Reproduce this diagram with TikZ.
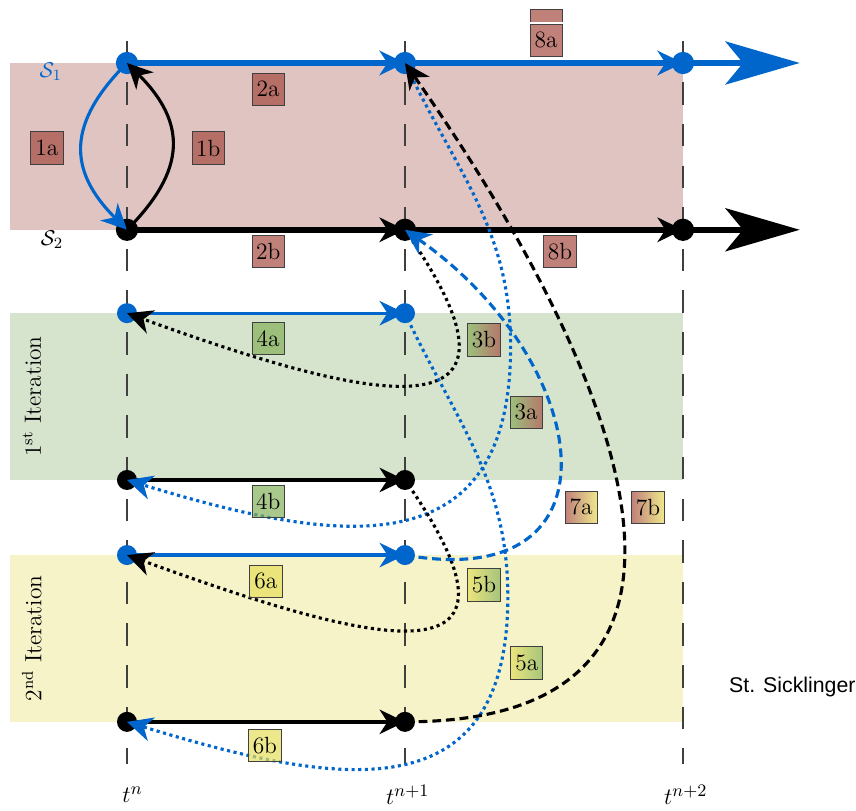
\documentclass[tikz,border=0pt]{standalone}
\usepackage{fontspec}
\usepackage{amsmath,amssymb}
\usepackage{xcolor}
\usepackage{tikz}
\usetikzlibrary{arrows.meta}
\newfontfamily\creditfont{Liberation Sans}

\definecolor{simblue}{RGB}{0,102,204}
\definecolor{bandred}{RGB}{224,196,193}
\definecolor{bandgreen}{RGB}{215,228,205}
\definecolor{bandyellow}{RGB}{246,243,200}
\definecolor{labred}{RGB}{165,75,65}
\definecolor{labgreen}{RGB}{131,176,91}
\definecolor{labyellow}{RGB}{231,222,91}

\tikzset{mainline/.style={line width=3pt},
iterline/.style={line width=1.7pt},
flow/.style={line width=1.6pt},
flowdot/.style={flow,dash pattern=on 1.6pt off 1.8pt},
flowdash/.style={flow,dash pattern=on 4.5pt off 2.5pt},
timeline/.style={black!75,line width=0.8pt,dash pattern=on 11.5pt off 9.8pt},
box/.style={draw=black!75,line width=0.5pt,minimum size=0.58cm,inner sep=0pt,
font=\fontsize{12}{14}\selectfont},
tintbox/.style={box,fill=#1,fill opacity=0.7,text opacity=1},
shadebox/.style 2 args={box,left color=#1,right color=#2}}

\begin{document}
\begin{tikzpicture}[>={Stealth[length=13pt,width=12.5pt,inset=4pt]}]
    \useasboundingbox (-2.284,-13.453) rectangle (13.112,1.133);

    % Bands
    \fill[bandred] (-2.1,0) rectangle (10,-3);
    \fill[bandgreen] (-2.1,-4.5) rectangle (10,-7.5);
    \fill[bandyellow] (-2.1,-8.85) rectangle (10,-11.85);

    % Time levels
    \draw[timeline] (0,0.4) -- (0,-12.6);
    \draw[timeline] (5,0.4) -- (5,-12.6);
    \draw[timeline] (10,0.4) -- (10,-12.6);
    \node[font=\fontsize{13}{15}\selectfont,inner sep=1pt] (tn) at (0.1,-13.16) {$t^{n}$};
    \node[font=\fontsize{13}{15}\selectfont,inner sep=1pt] (tn1) at (5.05,-13.16) {$t^{n+1}$};
    \node[font=\fontsize{13}{15}\selectfont,inner sep=1pt] (tn2) at (10.05,-13.16) {$t^{n+2}$};

    % Points
    \coordinate (s1-0) at (0,0);
    \coordinate (s1-1) at (5,0);
    \coordinate (s1-2) at (10,0);
    \coordinate (s1-end) at (12.1,0);
    \coordinate (s2-0) at (0,-3);
    \coordinate (s2-1) at (5,-3);
    \coordinate (s2-2) at (10,-3);
    \coordinate (s2-end) at (12.1,-3);
    \coordinate (k1s1-0) at (0,-4.5);
    \coordinate (k1s1-1) at (5,-4.5);
    \coordinate (k1s2-0) at (0,-7.5);
    \coordinate (k1s2-1) at (5,-7.5);
    \coordinate (k2s1-0) at (0,-8.85);
    \coordinate (k2s1-1) at (5,-8.85);
    \coordinate (k2s2-0) at (0,-11.85);
    \coordinate (k2s2-1) at (5,-11.85);

    % Time lines of S1 and S2
    \begin{scope}[simblue]
    \draw[mainline,->] (s1-0) -- (s1-1);
    \draw[mainline,->] (s1-1) -- (s1-2);
    \draw[mainline,-{Stealth[length=38pt,width=22pt,inset=9pt]}] (s1-2) -- (s1-end);
    \draw[iterline,->] (k1s1-0) -- (k1s1-1);
    \draw[iterline,->] (k2s1-0) -- (k2s1-1);
    \end{scope}
    \draw[mainline,->] (s2-0) -- (s2-1);
    \draw[mainline,->] (s2-1) -- (s2-2);
    \draw[mainline,-{Stealth[length=38pt,width=22pt,inset=9pt]}] (s2-2) -- (s2-end);
    \draw[iterline,->] (k1s2-0) -- (k1s2-1);
    \draw[iterline,->] (k2s2-0) -- (k2s2-1);

    % Dots
    \fill[simblue] (s1-0) circle (0.2) (s1-1) circle (0.2) (s1-2) circle (0.2)
        (k1s1-0) circle (0.18) (k1s1-1) circle (0.18)
        (k2s1-0) circle (0.18) (k2s1-1) circle (0.18);
    \fill (s2-0) circle (0.2) (s2-1) circle (0.2) (s2-2) circle (0.2)
        (k1s2-0) circle (0.18) (k1s2-1) circle (0.18)
        (k2s2-0) circle (0.18) (k2s2-1) circle (0.18);

    % Exchange at t^n
    \draw[flow,simblue,->] (s1-0) to[out=225,in=135,looseness=1.3] (s2-0);
    \draw[flow,->] (s2-0) to[out=45,in=-45,looseness=1.3] (s1-0);

    % 1st iteration
    \draw[flowdot,->] (s2-1) to[out=-55,in=-20,looseness=2.3] (k1s1-0);
    \draw[flowdot,simblue,->] (s1-1) to[out=-65,in=90] ++(1.9,-5.1)
        to[out=-90,in=-17,looseness=1.4] (k1s2-0);

    % 2nd iteration
    \draw[flowdot,->] (k1s2-1) to[out=-55,in=-20,looseness=2.3] (k2s1-0);
    \draw[flowdot,simblue,->] (k1s1-1) to[out=-65,in=90] ++(1.85,-5.1)
        to[out=-90,in=-17,looseness=1.4] (k2s2-0);

    % Back to t^{n+1}
    \draw[flowdash,simblue,->] (k2s1-1) to[out=-10,in=-35,looseness=1.8] (s2-1);
    \draw[flowdash,->] (k2s2-1) to[out=0,in=-55,looseness=1.42] (s1-1);

    % Subdomains and iterations
    \node[simblue,font=\fontsize{11}{13}\selectfont] (S1) at (-1.37,-0.16) {$\mathcal{S}_1$};
    \node[font=\fontsize{11}{13}\selectfont] (S2) at (-1.35,-3.18) {$\mathcal{S}_2$};
    \node[rotate=90,font=\fontsize{12}{14}\selectfont] (it1) at (-1.71,-6.0) {1\textsuperscript{st} Iteration};
    \node[rotate=90,font=\fontsize{12}{14}\selectfont] (it2) at (-1.71,-10.35) {2\textsuperscript{nd} Iteration};

    % Step labels
    \fill[labred,fill opacity=0.7] (7.25,0.745) rectangle (7.83,0.97);
    \draw[black!75,line width=0.5pt] (7.25,0.745) |- (7.83,0.97) -- (7.83,0.745);
    \node[tintbox=labred] (l1a) at (-1.44,-1.53) {1a};
    \node[tintbox=labred] (l1b) at (1.46,-1.53) {1b};
    \node[tintbox=labred] (l2a) at (2.54,-0.47) {2a};
    \node[tintbox=labred] (l2b) at (2.54,-3.39) {2b};
    \node[tintbox=labred] (l8a) at (7.54,0.41) {8a};
    \node[tintbox=labred] (l8b) at (7.79,-3.39) {8b};
    \node[shadebox={labgreen!70!bandgreen}{labred!70!bandgreen}] (l3b) at (6.42,-4.98) {3b};
    \node[shadebox={labgreen!70!bandgreen}{labred!70!bandgreen}] (l3a) at (7.18,-6.28) {3a};
    \node[tintbox=labgreen] (l4a) at (2.54,-4.96) {4a};
    \node[tintbox=labgreen] (l4b) at (2.54,-7.88) {4b};
    \node[shadebox={labred!70!white}{labyellow!70!white}] (l7a) at (8.17,-7.99) {7a};
    \node[shadebox={labred!70!white}{labyellow!70!white}] (l7b) at (9.37,-7.99) {7b};
    \node[shadebox={labyellow!70!bandyellow}{labgreen!70!bandyellow}] (l5b) at (6.42,-9.39) {5b};
    \node[shadebox={labyellow!70!bandyellow}{labgreen!70!bandyellow}] (l5a) at (7.19,-10.79) {5a};
    \node[tintbox=labyellow] (l6a) at (2.5,-9.32) {6a};
    \node[tintbox=labyellow] (l6b) at (2.48,-12.27) {6b};

    \node[anchor=east,inner sep=0pt,font=\creditfont\fontsize{10.9}{13}\selectfont] (credit) at (13.11,-11.22) {St. Sicklinger};
\end{tikzpicture}
\end{document}
